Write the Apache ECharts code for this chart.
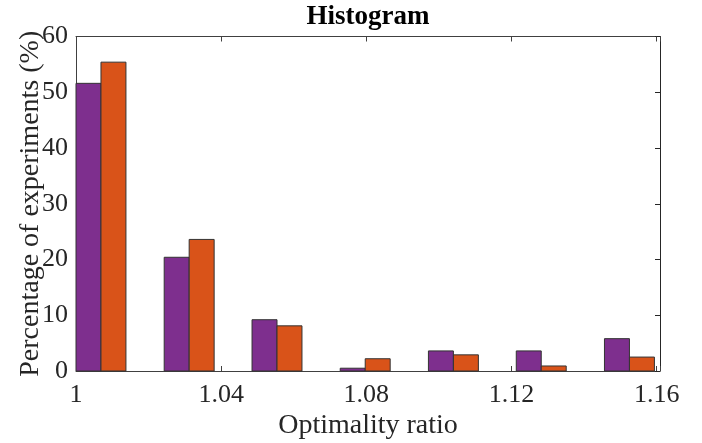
<!DOCTYPE html>
<html>
<head>
<meta charset="utf-8">
<script src="https://cdn.jsdelivr.net/npm/echarts@6/dist/echarts.min.js"></script>
<style>
  html, body { margin: 0; padding: 0; background: #fff; }
  #chart { width: 702px; height: 443px; }
</style>
</head>
<body>
<div id="chart"></div>
<script>
// Histogram bins: left edge of each bin group on the optimality-ratio axis
const binStarts = [1.0000, 1.0243, 1.0485, 1.0728, 1.0971, 1.1213, 1.1456];
// Percentage of experiments per bin, for the two methods
const seriesA = [51.6, 20.4, 9.2, 0.5, 3.6, 3.6, 5.8];
const seriesB = [55.4, 23.6, 8.1, 2.2, 2.9, 0.9, 2.5];
// Axis tick labels
const xTickLabels = ['1', '1.04', '1.08', '1.12', '1.16'];
const yTickLabels = ['0', '10', '20', '30', '40', '50', '60'];

const FONT = '"Liberation Serif", "Times New Roman", serif';
const AXIS_COLOR = '#404040';
const BAR_W = 0.00688;       // width of one bar in axis units
const COLORS = ['#7E2F8E', '#D95319'];

function xFormatter(v) {
  for (const t of xTickLabels) {
    if (Math.abs(parseFloat(t) - v) < 1e-6) return t;
  }
  return '';
}

function makeSeries(values, idx) {
  return {
    type: 'custom',
    xAxisIndex: 0,
    yAxisIndex: 0,
    data: binStarts.map((b, i) => [b, values[i]]),
    renderItem: function (params, api) {
      const left = api.value(0) + idx * BAR_W;
      const p0 = api.coord([left, api.value(1)]);
      const p1 = api.coord([left + BAR_W, 0]);
      return {
        type: 'rect',
        shape: { x: p0[0], y: p0[1], width: p1[0] - p0[0], height: p1[1] - p0[1] },
        style: { fill: COLORS[idx], stroke: '#333333', lineWidth: 1 }
      };
    },
    z: 2
  };
}

const chart = echarts.init(document.getElementById('chart'), null, { renderer: 'canvas' });
chart.setOption({
  animation: false,
  backgroundColor: '#ffffff',
  title: {
    text: 'Histogram',
    left: 363,
    textAlign: 'center',
    top: -1,
    textStyle: { fontFamily: FONT, fontSize: 27, fontWeight: 'bold', color: '#000' }
  },
  grid: { left: 76, right: 42, top: 36.5, bottom: 72, containLabel: false, outerBoundsMode: 'none' },
  xAxis: [
    {
      type: 'value', position: 'bottom', min: 1, max: 1.1609, interval: 0.04,
      name: 'Optimality ratio', nameLocation: 'middle', nameGap: 41, nameMoveOverlap: false,
      nameTextStyle: { fontFamily: FONT, fontSize: 28, color: '#262626' },
      axisLine: { show: true, onZero: false, lineStyle: { color: AXIS_COLOR, width: 1 } },
      axisTick: { show: true, inside: true, length: 5, lineStyle: { color: AXIS_COLOR } },
      axisLabel: { formatter: xFormatter, fontFamily: FONT, fontSize: 26, color: '#262626', margin: 11 },
      splitLine: { show: false }
    },
    {
      type: 'value', position: 'top', min: 1, max: 1.1609, interval: 0.04,
      axisLine: { show: true, onZero: false, lineStyle: { color: AXIS_COLOR, width: 1 } },
      axisTick: { show: true, inside: true, length: 5, lineStyle: { color: AXIS_COLOR } },
      axisLabel: { show: false },
      splitLine: { show: false }
    }
  ],
  yAxis: [
    {
      type: 'value', position: 'left', min: 0, max: 60, interval: 10,
      name: 'Percentage of experiments (%)', nameLocation: 'middle', nameGap: 31, nameRotate: 90,
      nameMoveOverlap: false,
      nameTextStyle: { fontFamily: FONT, fontSize: 28, color: '#262626' },
      axisLine: { show: true, onZero: false, lineStyle: { color: AXIS_COLOR, width: 1 } },
      axisTick: { show: true, inside: true, length: 5, lineStyle: { color: AXIS_COLOR } },
      axisLabel: {
        formatter: (v) => yTickLabels[Math.round(v / 10)] || '',
        fontFamily: FONT, fontSize: 26, color: '#262626', margin: 8
      },
      splitLine: { show: false }
    },
    {
      type: 'value', position: 'right', min: 0, max: 60, interval: 10,
      axisLine: { show: true, onZero: false, lineStyle: { color: '#262626', width: 1 } },
      axisTick: { show: true, inside: true, length: 5, lineStyle: { color: '#262626' } },
      axisLabel: { show: false },
      splitLine: { show: false }
    }
  ],
  series: [makeSeries(seriesA, 0), makeSeries(seriesB, 1)]
});
</script>
</body>
</html>
